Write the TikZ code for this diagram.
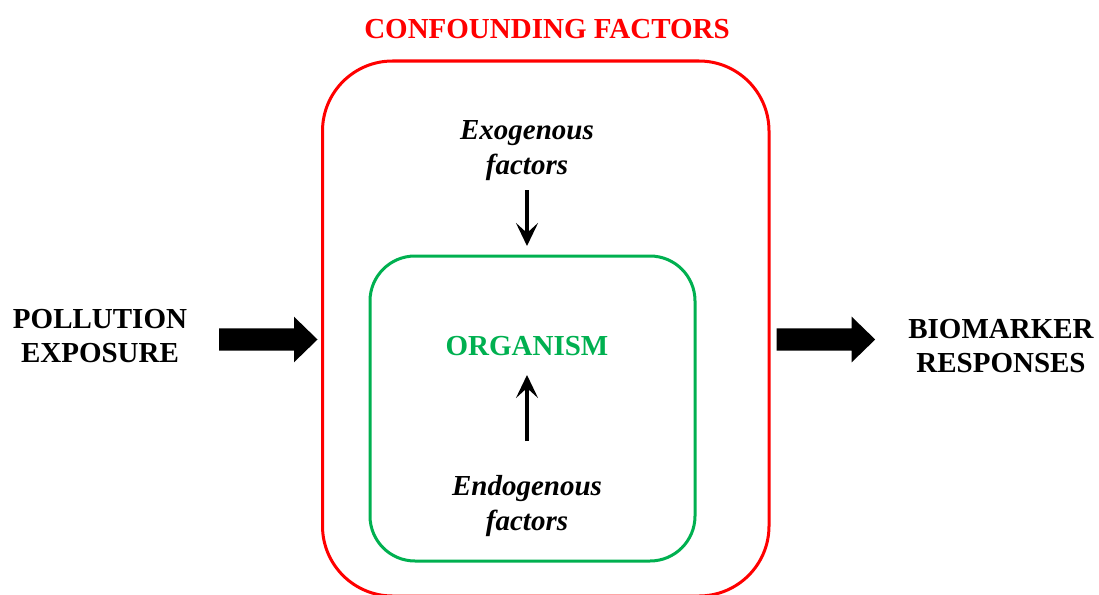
\documentclass[tikz,border=0pt]{standalone}
\usepackage{fontspec}
\setmainfont{Liberation Serif}
\usetikzlibrary{arrows.meta}
\definecolor{boxred}{RGB}{255,0,0}
\definecolor{boxgreen}{RGB}{0,176,80}
\tikzset{
  lbl/.style={font=\fontsize{29}{34}\selectfont\bfseries, align=center, inner sep=0pt},
  factor/.style={font=\fontsize{29}{35}\selectfont\bfseries\itshape, align=center, inner sep=0pt},
  frame/.style={draw, line width=3pt, inner sep=0pt},
  thinarrow/.style={line width=4.5pt, -{Stealth[length=23pt,width=22pt,inset=10pt]}},
  blockarrow/.style={fill=black}
}
\begin{document}
\begin{tikzpicture}[x=1pt, y=-1pt]
  \useasboundingbox (0,0) rectangle (1099,594);

  % outer and inner frames
  \node[frame, draw=boxred, rounded corners=70pt, minimum width=446.5pt, minimum height=535pt] (confound) at (545.75,328.5) {};
  \node[frame, draw=boxgreen, rounded corners=45pt, minimum width=325pt, minimum height=305pt] (organismbox) at (532.5,408.5) {};

  % titles and labels
  \node[lbl, text=boxred, anchor=base] (title) at (547,38) {CONFOUNDING FACTORS};
  \node[lbl] (pollution) at (100,336) {POLLUTION\\EXPOSURE};
  \node[lbl] (biomarker) at (1001,346) {BIOMARKER\\RESPONSES};
  \node[lbl, text=boxgreen, anchor=base] (organism) at (527,355) {ORGANISM};
  \node[factor] (exo) at (527,151) {Exogenous\\factors};
  \node[factor] (endo) at (527,506) {Endogenous\\factors};

  % thin arrows
  \coordinate (exotip) at (527,246);
  \coordinate (endotip) at (527,375);
  \draw[thinarrow] (527,190) -- (exotip);
  \draw[thinarrow] (527,441) -- (endotip);

  % block arrows
  \coordinate (inarrow) at (219,339.5);
  \coordinate (outarrow) at (776.7,339.5);
  \foreach \c in {inarrow,outarrow}{
    \fill[blockarrow] (\c) ++(0,-11.2) -- ++(75,0) -- ++(0,-11.6) -- ++(23.5,22.8)
      -- ++(-23.5,22.8) -- ++(0,-11.6) -- ++(-75,0) -- cycle;
  }
\end{tikzpicture}
\end{document}
